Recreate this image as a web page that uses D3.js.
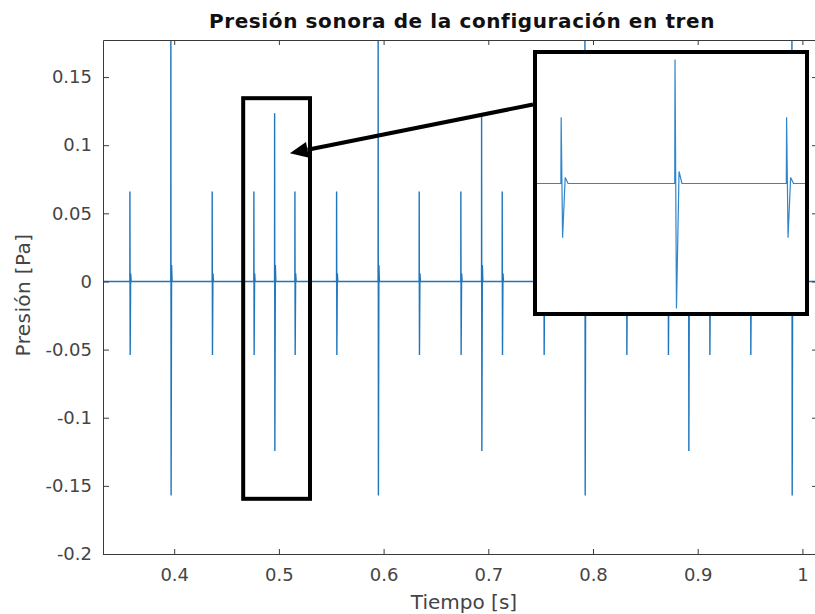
<!doctype html>
<html>
<head>
<meta charset="UTF-8" />
<title>Presión sonora</title>
<script src="https://d3js.org/d3.v7.min.js"></script>
<style>
  body { margin: 0; background: #fff; }
  text { font-family: "DejaVu Sans", sans-serif; }
</style>
</head>
<body>
<div id="chart"></div>
<script>

// pulse times [s]
const spikeTimes = [0.3577, 0.3968, 0.4363, 0.4761, 0.4959, 0.5153, 0.5551, 0.5948, 0.6340, 0.6738,
                    0.6936, 0.7133, 0.7531, 0.7923, 0.8321, 0.8718, 0.8913, 0.9114, 0.9505, 0.9900];
// peak / trough / after-ringing of each pulse [Pa]
const spikePeaks   = [0.066, 0.19, 0.066, 0.066, 0.1235, 0.066, 0.066, 0.19, 0.066, 0.066,
                      0.1235, 0.066, 0.066, 0.19, 0.066, 0.066, 0.1235, 0.066, 0.066, 0.19];
const spikeTroughs = [-0.054, -0.157, -0.054, -0.054, -0.1245, -0.054, -0.054, -0.157, -0.054, -0.054,
                      -0.1245, -0.054, -0.054, -0.157, -0.054, -0.054, -0.1245, -0.054, -0.054, -0.157];
const spikeRings   = [0.006, 0.012, 0.006, 0.006, 0.012, 0.006, 0.006, 0.012, 0.006, 0.006,
                      0.012, 0.006, 0.006, 0.012, 0.006, 0.006, 0.012, 0.006, 0.006, 0.012];

const xTicks = [0.4, 0.5, 0.6, 0.7, 0.8, 0.9, 1];
const xTickLabels = ["0.4", "0.5", "0.6", "0.7", "0.8", "0.9", "1"];
const yTicks = [-0.2, -0.15, -0.1, -0.05, 0, 0.05, 0.1, 0.15];
const yTickLabels = ["-0.2", "-0.15", "-0.1", "-0.05", "0", "0.05", "0.1", "0.15"];

// zoom window marked on the main axes (data units)
const zoomT = [0.4659, 0.5297];
const zoomP = [-0.1595, 0.1345];
// where the arrow points (data units)
const arrowTarget = [0.5105, 0.094];

const width = 815, height = 614;
const marginLeft = 103, plotRight = 818, marginTop = 40, plotBottom = 554;

// build the signal: flat line with one pulse shape per time
const signal = [[0.30, 0]];
spikeTimes.forEach((t, i) => {
  signal.push([t - 0.00005, 0]);
  signal.push([t, spikePeaks[i]]);
  signal.push([t + 0.00025, spikeTroughs[i]]);
  signal.push([t + 0.0007, spikeRings[i]]);
  signal.push([t + 0.0012, 0]);
});
signal.push([1.05, 0]);

const x = d3.scaleLinear().domain([0.332, 1.0149]).range([marginLeft, plotRight]);
const y = d3.scaleLinear().domain([-0.2, 0.1772]).range([plotBottom, marginTop]);

const svg = d3.select("#chart").append("svg")
    .attr("width", width)
    .attr("height", height);

svg.append("rect").attr("width", width).attr("height", height).attr("fill", "#fff");

const defs = svg.append("defs");
defs.append("clipPath").attr("id", "plotclip")
  .append("rect")
    .attr("x", marginLeft).attr("y", marginTop)
    .attr("width", plotRight - marginLeft).attr("height", plotBottom - marginTop);

// signal
svg.append("path")
    .datum(signal)
    .attr("clip-path", "url(#plotclip)")
    .attr("fill", "none")
    .attr("stroke", "#1f76bd")
    .attr("stroke-width", 1.4)
    .attr("d", d3.line().x(d => x(d[0])).y(d => y(d[1])));

// axes, matlab style ticks inside
const axisColor = "#3a3a3a";
function styleAxis(g) {
  g.select(".domain").attr("stroke", axisColor);
  g.selectAll(".tick line").attr("stroke", axisColor);
  g.selectAll(".tick text").attr("fill", "#454545").style("font-size", "18px")
    .style("font-family", "'DejaVu Sans', sans-serif");
}

svg.append("g")
    .attr("transform", `translate(0,${plotBottom})`)
    .call(d3.axisBottom(x).tickValues(xTicks).tickSizeInner(-5).tickSizeOuter(0)
      .tickPadding(14).tickFormat((d, i) => xTickLabels[i]))
    .call(styleAxis);

svg.append("g")
    .attr("transform", `translate(0,${marginTop})`)
    .call(d3.axisTop(x).tickValues(xTicks).tickSizeInner(-5).tickSizeOuter(0).tickFormat(""))
    .call(styleAxis);

svg.append("g")
    .attr("transform", `translate(${marginLeft},0)`)
    .call(d3.axisLeft(y).tickValues(yTicks).tickSizeInner(-6).tickSizeOuter(0)
      .tickPadding(11).tickFormat((d, i) => yTickLabels[i]))
    .call(styleAxis);

svg.append("g")
    .attr("transform", `translate(${plotRight},0)`)
    .call(d3.axisRight(y).tickValues(yTicks).tickSizeInner(-6).tickSizeOuter(0).tickFormat(""))
    .call(styleAxis);

// titles
svg.append("text")
    .attr("x", 462).attr("y", 28)
    .attr("text-anchor", "middle")
    .style("font-size", "20px").style("font-weight", "bold")
    .style("letter-spacing", "0.6px")
    .attr("fill", "#111")
    .text("Presión sonora de la configuración en tren");

svg.append("text")
    .attr("x", 464).attr("y", 609)
    .attr("text-anchor", "middle")
    .style("font-size", "20px")
    .attr("fill", "#444")
    .text("Tiempo [s]");

svg.append("text")
    .attr("transform", `translate(30,295) rotate(-90)`)
    .attr("text-anchor", "middle")
    .style("font-size", "20px")
    .style("letter-spacing", "0.4px")
    .attr("fill", "#444")
    .text("Presión [Pa]");

// zoom window on the main plot
svg.append("rect")
    .attr("x", x(zoomT[0])).attr("y", y(zoomP[1]))
    .attr("width", x(zoomT[1]) - x(zoomT[0]))
    .attr("height", y(zoomP[0]) - y(zoomP[1]))
    .attr("fill", "none").attr("stroke", "#000").attr("stroke-width", 4);

// inset with the zoomed signal
const inset = {left: 537, right: 805, top: 54, bottom: 312};
const xi = d3.scaleLinear().domain([0.4719, 0.5185]).range([inset.left, inset.right]);
const yi = d3.scaleLinear().domain([-0.129, 0.130]).range([inset.bottom + 1, inset.top - 1]);

defs.append("clipPath").attr("id", "insetclip")
  .append("rect")
    .attr("x", inset.left).attr("y", inset.top)
    .attr("width", inset.right - inset.left).attr("height", inset.bottom - inset.top);

svg.append("rect")
    .attr("x", inset.left - 2).attr("y", inset.top - 2)
    .attr("width", inset.right - inset.left + 4).attr("height", inset.bottom - inset.top + 4)
    .attr("fill", "#fff");

svg.append("path")
    .datum(signal)
    .attr("clip-path", "url(#insetclip)")
    .attr("fill", "none")
    .attr("stroke", "#2f86cc")
    .attr("stroke-width", 1.2)
    .attr("d", d3.line().x(d => xi(d[0])).y(d => yi(d[1])));

svg.append("rect")
    .attr("x", inset.left - 2).attr("y", inset.top - 2)
    .attr("width", inset.right - inset.left + 4).attr("height", inset.bottom - inset.top + 4)
    .attr("fill", "none").attr("stroke", "#000").attr("stroke-width", 4);

// arrow from the inset to the pulse
const ax0 = inset.left - 4, ay0 = 104.5;
const ax1 = x(arrowTarget[0]), ay1 = y(arrowTarget[1]);
const ang = Math.atan2(ay1 - ay0, ax1 - ax0);
const headLen = 18, headHalf = 8;
const bx = ax1 - headLen * Math.cos(ang), by = ay1 - headLen * Math.sin(ang);

svg.append("line")
    .attr("x1", ax0).attr("y1", ay0).attr("x2", bx).attr("y2", by)
    .attr("stroke", "#000").attr("stroke-width", 4);

svg.append("polygon")
    .attr("points", [
      [ax1, ay1],
      [bx + headHalf * Math.sin(ang), by - headHalf * Math.cos(ang)],
      [bx - headHalf * Math.sin(ang), by + headHalf * Math.cos(ang)]
    ].map(p => p.join(",")).join(" "))
    .attr("fill", "#000");

</script>
</body>
</html>
